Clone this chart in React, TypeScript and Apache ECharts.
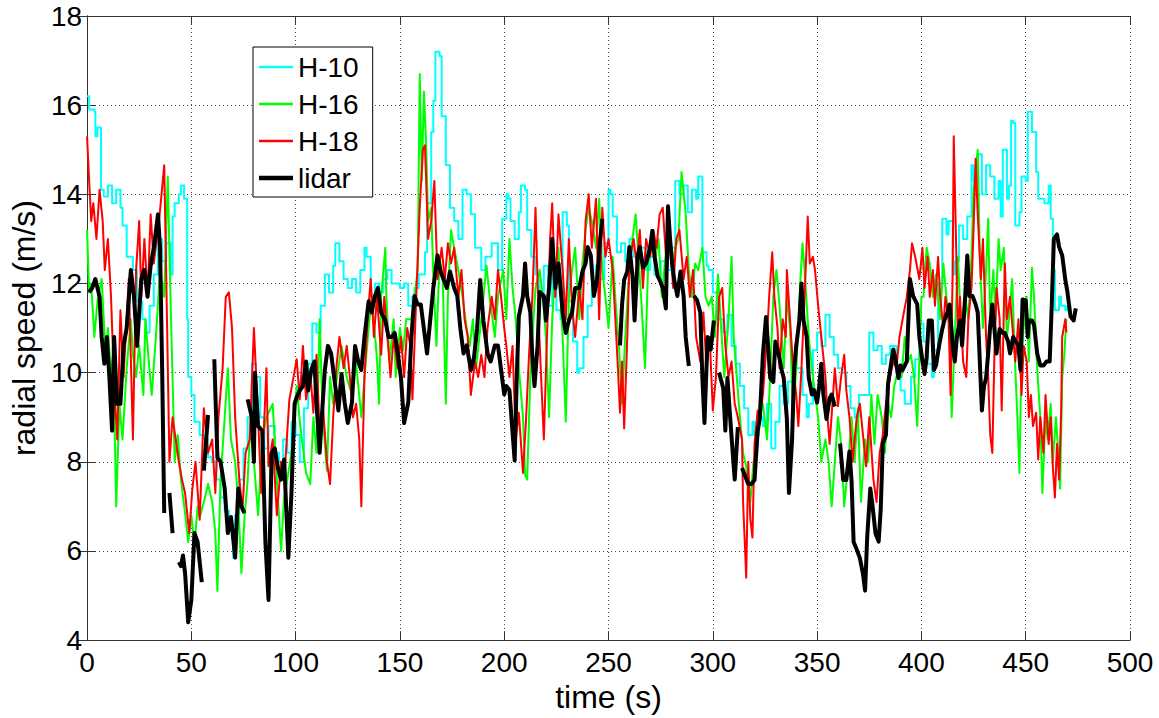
import React, { useEffect, useRef } from "react";
import * as echarts from "echarts";

const seriesNames = ["H-10", "H-16", "H-18", "lidar"];
const seriesColors = ["#00ffff", "#00ff00", "#ff0000", "#000000"];
const xTickInterval = 50;
const yTickInterval = 2;

// [time (s), radial speed (m/s)]
const h10: [number, number][] = [
  [0,16.2],[1,15.9],[3.5,15.85],[4,15.3],[5,15.5],[6.7,14.1],[8,13.95],[10,14.2],[12,13.8],[14,14.1],[16,13.7],[17,13.3],[19,12.6],[22,12.3],[24,11.6],[26.5,11.2],[28,10.9],[30,11.5],[32,12.2],[34,13],[36,12.5],[38,12.9],[40,12.2],[41,13.5],[42,13.8],[44,14.0],[45,14.2],[46.5,13.9],[48,11.2],[48.5,9.9],[50,9.5],[51.5,8.9],[54,8.6],[56,8.5],[58,8.1],[60,8.0],[62,7.6],[64,7.2],[66,6.9],[68,6.6],[70,5.85],[71,6.8],[73,7.6],[75,8.3],[77,9.0],[79,10.2],[81,9.9],[83,9.0],[85,8.3],[87,8.8],[90,8.2],[92,8.0],[94,8.5],[96,8.2],[98,8.9],[100,8.6],[102,8.0],[104,9.2],[106,10.2],[108,11.1],[110,10.9],[112,11.5],[114,12.2],[116,11.8],[118,12.4],[119,12.9],[121,12.5],[123,12.1],[125,11.9],[127,12.1],[129,11.8],[131,12.3],[133,12.8],[134,12.6],[136,11.7],[138,12.0],[140,11.8],[142,12.1],[144,12.3],[146,12.0],[148,12.0],[150,11.9],[152,12.0],[154,11.5],[156,11.7],[157,11.9],[159,12.2],[162,12.7],[163,13.8],[165,15.4],[166,16.1],[167,17.2],[169,17.1],[170,15.75],[172,14.65],[174,13.7],[176,13.4],[178,13.0],[180,14.1],[182,14.0],[184,13.55],[186,12.8],[189,12.3],[191,12.6],[194,12.9],[197,12.3],[199,13.45],[201,14.0],[202,13.9],[203,13.4],[205,13.0],[207,13.6],[208,14.2],[210,14.1],[211,13.2],[213,12.6],[215,12.2],[217,11.7],[219,12.4],[221,11.5],[223,12.2],[225,11.4],[227,11.2],[228,13.6],[230,13.3],[231,11.6],[233,10.7],[235,10.0],[236,10.1],[238,10.8],[240,11.5],[242,12.0],[244,12.4],[246,12.1],[248,12.9],[250,14.1],[251,14.0],[252,13.5],[254,12.7],[256,12.9],[258,12.5],[260,13.0],[262,12.6],[265,12.8],[268,12.3],[270,12.6],[272,12.2],[275,12.5],[278,12.3],[280,12.8],[282,14.3],[284,14.0],[286,14.2],[288,13.6],[290,14.1],[292,13.9],[293,14.4],[295,12.7],[297,12.4],[298,12.3],[300,11.8],[302,11.2],[305,10.9],[307,11.3],[309,10.6],[311,10.2],[313,9.7],[315,9.2],[317,8.6],[319,8.9],[320,8.6],[322,9.0],[324,8.8],[326,9.3],[328,8.3],[330,8.9],[332,9.7],[334,9.3],[336,9.8],[338,10.4],[340,10.1],[343,9.5],[345,9.0],[346,9.3],[348,10.5],[350,10.9],[352,10.6],[354,11.3],[356,10.8],[358,10.4],[360,10.1],[362,10.0],[364,9.7],[366,9.2],[368,9.0],[370,9.5],[373,9.5],[375,10.9],[377,10.5],[379,10.6],[381,10.2],[383,10.4],[385,10.6],[388,10.0],[390,9.6],[392,9.3],[395,9.9],[397,10.3],[399,11.1],[401,10.7],[403,10.2],[405,9.9],[406,10.5],[408,12.0],[410,13.45],[412,13.1],[413,13.4],[415,12.2],[416,12.5],[418,13.3],[420,13.0],[422,13.5],[424,14.65],[425,14.3],[427,14.9],[429,14.0],[431,14.65],[433,14.4],[435,13.9],[437,14.3],[438,13.5],[439,15.0],[441,13.9],[442,14.2],[443,15.65],[444,15.6],[445,13.3],[447,13.6],[448,14.4],[450,14.3],[451,15.85],[453,15.4],[455,14.5],[456,13.9],[459,13.8],[461,14.2],[462,13.45],[463,12.3],[464,11.4],[466,11.7],[467,11.5],[469,11.4],[470,11.5]
];

const h16: [number, number][] = [
  [0,13.2],[1,11.8],[2,12.0],[3.5,10.8],[5,11.6],[7,12.1],[8,11.2],[9,10.3],[10,11.0],[11.5,9.9],[12.5,10.4],[14,7.0],[15.5,9.3],[17,8.5],[19,10.1],[21,11.2],[22,10.4],[23.5,9.9],[25,10.6],[27,9.5],[28,11.2],[29.5,10.3],[31,9.5],[33,10.8],[35,12.3],[37,11.7],[38.7,14.4],[40,11.7],[42,8.0],[43.5,8.6],[45,7.6],[47,6.85],[48.5,6.2],[50,6.8],[51.5,6.1],[53,7.0],[54,6.75],[56,7.1],[58,7.5],[60,7.1],[61.5,6.4],[62.5,5.1],[64,7.6],[66,9.0],[67.5,10.1],[69,8.5],[71,8.0],[72.5,7.1],[74,5.5],[75.5,6.75],[77,7.6],[78.5,9.0],[80,8.0],[82,6.8],[84,8.5],[86,9.0],[89,9.3],[90.5,8.0],[93,6.0],[94.5,7.2],[96,7.6],[98,8.2],[99,8.6],[100.5,9.7],[102,8.9],[103,8.5],[105,7.75],[107,7.5],[108.5,9.0],[110,8.2],[111.5,11.2],[113,9.0],[115,7.8],[116.5,9.9],[118,9.3],[120.5,10.1],[122,10.6],[124.5,9.9],[127,9.5],[129,10.2],[131.5,9.0],[133,9.9],[135,11.0],[136.5,11.7],[139,10.3],[140,9.3],[141,11.7],[143,12.8],[143.5,11.7],[145,10.25],[147,11.2],[148,9.9],[150,11.0],[151.5,10.5],[153,11.2],[155.5,11.2],[157,11.7],[158.5,12.3],[159.5,16.7],[160.5,14.3],[161.5,16.3],[162.5,15.2],[163.5,13.4],[165,13.7],[166,12.2],[167.5,10.6],[169,12.6],[170.5,12.1],[172,9.3],[173,11.7],[174.5,13.2],[176,12.8],[178,12.3],[180,11.7],[182,11.0],[183.5,10.6],[185,11.2],[186.5,10.1],[189,11.2],[191.5,12.4],[193,11.7],[195.5,10.8],[197,11.7],[199.5,12.3],[201,11.2],[202.5,13.0],[204,11.9],[205.5,11.2],[207,10.1],[209,9.0],[210,7.7],[211,7.6],[212.5,9.9],[213.5,10.8],[215,11.9],[217,12.3],[218.5,11.7],[220,10.8],[221.5,9.0],[223,11.2],[224.5,12.3],[226,12.8],[228,10.8],[229.5,8.9],[231,11.7],[232.5,12.3],[234,12.8],[236,11.2],[237.5,12.45],[239,13.2],[240.5,13.7],[242,13.4],[244,12.8],[245.5,13.9],[247,12.3],[248.5,11.7],[250,11.0],[252,12.6],[253.5,11.5],[255,10.6],[256.5,9.3],[258,10.8],[260,12.3],[261.5,13.0],[263,13.55],[264.5,12.5],[266,11.4],[267.5,10.1],[269,12.45],[271,13.0],[272.5,12.6],[274,13.0],[275.5,11.7],[277,12.45],[279,13.4],[280.5,12.3],[282,12.8],[283.5,13.0],[285,14.5],[287,13.55],[288.5,12.3],[290,11.7],[291.5,12.45],[293,12.3],[295,12.8],[296.5,11.7],[298,11.5],[299.5,11.7],[301,10.8],[302.5,12.2],[304,11.0],[305.5,9.9],[307.5,11.2],[309,12.6],[310,10.8],[311.5,9.9],[313,9.0],[314.5,8.2],[316,7.9],[318,7.1],[319.5,8.0],[321,8.2],[322.5,9.0],[324,9.3],[326,8.5],[327.5,9.9],[329,11.7],[330.5,12.3],[332,11.5],[334,10.1],[335.5,11.7],[337,11.0],[338.5,9.0],[340,10.1],[342,12.1],[343,12.9],[344,12.3],[346,10.8],[347.5,10.1],[349,9.5],[350.5,9.0],[352,8.0],[354,8.5],[355.5,8.0],[357,7.0],[358.5,8.0],[360,9.0],[361.5,8.4],[363,7.0],[365,8.0],[366.5,9.0],[368,8.0],[369.5,9.2],[371,7.1],[373,8.5],[374.5,8.0],[376,9.5],[377.5,8.4],[379,9.5],[381,9.0],[382.5,8.2],[384,9.3],[385.5,9.0],[387,9.7],[389,10.1],[390.5,9.9],[392,10.8],[393.5,10.25],[395,10.4],[396.5,9.9],[398,8.8],[400,11.7],[401,11.7],[402.5,12.8],[404,12.45],[405.5,11.7],[407,12.2],[409,11.2],[410.5,12.45],[412,11.7],[413.5,11.0],[414.5,9.0],[416,10.8],[417.5,12.6],[419,11.0],[421,11.7],[422.5,11.2],[424,12.6],[425,14.1],[427,15.0],[428,12.6],[429.5,11.0],[431,12.3],[432,13.45],[433,11.2],[434.5,12.3],[435.5,11.2],[437,13.0],[438,12.3],[439.5,12.8],[441,10.8],[442,11.2],[443.5,12.1],[445,10.1],[446,9.0],[447,7.75],[448,10.4],[449,11.0],[450.5,11.7],[451.5,10.25],[453,12.35],[454,11.7],[455.5,10.1],[457,9.0],[458,7.3],[459.5,9.0],[460.5,8.5],[462,9.3],[463,8.0],[464.5,9.0],[465.5,8.3],[466.5,7.4],[467.5,9.9],[468.5,10.4],[469.5,11.2]
];

const h18: [number, number][] = [
  [0,15.3],[1,14.3],[2,13.4],[3,13.8],[4.5,13.0],[6,14.1],[7.5,13.4],[8.5,12.3],[10,13.0],[11.5,11.7],[13,9.7],[14.5,8.5],[16,11.4],[17.5,9.9],[18.5,10.8],[20,12.1],[22,8.5],[23.5,12.3],[25,13.4],[26,11.7],[27.5,13.0],[29,11.7],[30.5,13.55],[32,12.45],[34.5,13.4],[37,14.65],[37.8,12.6],[39.5,8.0],[41,9.0],[42.5,8.5],[44,8.0],[45.5,7.6],[47,7.3],[49,6.4],[50.5,7.4],[52,8.0],[54,6.7],[56,9.2],[58,8.2],[60,8.5],[61.5,7.3],[63,9.0],[65,10.1],[66.5,11.7],[68,11.8],[69.5,11.0],[71,9.0],[73,7.6],[74.5,6.9],[76,8.2],[78,8.5],[80,11.0],[82,9.0],[83.5,7.3],[86,10.1],[87,7.9],[89,8.5],[91,6.8],[93,8.0],[94.5,7.6],[97,9.4],[99,9.9],[100.5,10.3],[102,9.4],[103.5,10.6],[105,9.4],[107,10.0],[108.5,9.1],[110,10.4],[111.5,8.7],[113,9.3],[115,8.0],[116.5,7.5],[118,9.0],[119.5,10.1],[121,10.8],[123,10.1],[124.5,10.6],[126,9.9],[127.5,9.0],[129,9.3],[130.5,8.5],[131.5,7.0],[133,9.9],[134.5,11.2],[136,12.1],[137.5,10.8],[139,11.7],[141,10.4],[142.5,11.7],[144,10.8],[145.5,9.9],[147,10.8],[149,10.1],[150.5,10.8],[152,9.9],[153.5,11.0],[155,10.6],[156,9.4],[158,11.9],[159.5,13.7],[161,15.0],[162,15.1],[163.5,13.0],[165,13.4],[166.5,14.3],[168,12.1],[170,12.8],[171.5,12.1],[173,12.9],[174.5,12.45],[176,12.8],[178,11.7],[179.5,12.3],[181,11.2],[182.5,10.8],[184,9.5],[186,10.25],[187.5,9.9],[189,10.4],[190.5,9.9],[192,11.0],[194,11.7],[195.5,11.2],[197,12.3],[198.5,11.7],[200,11.0],[201,10.6],[202.5,9.9],[204,10.6],[205.5,8.5],[207,9.1],[209,7.75],[210.5,9.0],[212,10.5],[213.5,11.7],[215,13.7],[216.5,11.2],[217.5,10.1],[219,8.5],[220.5,10.8],[222,13.0],[223,13.8],[224.5,11.7],[226,13.55],[228,12.3],[229.5,11.2],[231,13.0],[232.5,11.5],[234,10.8],[236,11.9],[237.5,11.2],[239,13.4],[240.5,14.0],[242,12.8],[244,13.9],[245.5,11.2],[247,13.7],[248.5,12.6],[250,13.0],[252,12.3],[253.5,11.0],[254.5,10.1],[255.5,9.1],[256.5,10.25],[257.5,8.75],[259,10.8],[260,12.45],[262,13.0],[263.5,12.45],[265,13.2],[266.5,11.9],[268,13.0],[270,12.6],[271.5,13.2],[273,12.8],[274.5,13.55],[276,13.7],[278,12.3],[279.5,13.0],[281,11.9],[282.5,13.0],[284,13.2],[286,12.1],[287.5,12.6],[289,11.7],[290.5,12.3],[292,10.8],[294,10.25],[295.5,11.35],[297,10.1],[298.5,10.8],[300,9.15],[301.5,9.9],[303,11.7],[304.5,11.9],[306,10.6],[307.5,9.9],[309,10.25],[310.5,9.3],[312,9.0],[314,8.5],[314.5,7.1],[315.5,6.0],[316,5.4],[317,8.0],[318,6.7],[319,6.3],[320,8.4],[321.5,9.15],[322.5,9.0],[324,9.5],[326,10.8],[327,11.7],[328.5,12.7],[329.5,11.7],[331,11.0],[332,10.1],[333.5,11.2],[335,10.8],[335.5,12.3],[337,11.2],[338.5,10.1],[340,9.5],[341,8.8],[342.5,10.1],[344,11.7],[345.5,13.5],[346.5,12.45],[348,12.6],[349,12.3],[350.5,11.5],[352,10.8],[354,9.9],[355,9.0],[356,8.4],[357.5,9.4],[358.5,10.1],[360,9.25],[361.5,9.9],[363,10.4],[364,9.6],[365.5,9.0],[367,8.0],[369,9.0],[370.5,9.3],[372,8.6],[373.5,7.9],[375,9.0],[377,7.6],[378.5,7.1],[380,8.2],[381.5,8.6],[383,9.3],[385,9.9],[386.5,10.25],[388,10.1],[389.5,10.8],[391,11.2],[393,11.7],[394.5,12.3],[395.5,12.9],[397,12.6],[399,12.1],[400.5,12.8],[401.5,11.9],[403,12.6],[404,11.7],[405.5,12.3],[406.5,11.5],[408,12.6],[409,11.7],[410.5,11.0],[411.5,11.7],[413,11.2],[414,9.5],[415,12.3],[415.5,15.3],[416.5,13.2],[417.5,10.8],[418.5,11.7],[420,10.25],[421.5,9.9],[422.5,11.2],[424,11.9],[425,13.2],[426,14.8],[427,13.55],[428.5,12.1],[429.5,13.0],[431,10.8],[432,9.9],[433,8.6],[434,8.2],[435,10.4],[436,11.9],[437.5,11.2],[438.5,9.15],[440,12.45],[441,11.2],[442.5,11.7],[444,10.8],[445,10.25],[446.5,11.2],[448,9.5],[449,10.6],[450.5,10.25],[451.5,9.0],[452.5,9.5],[453.5,8.8],[455,9.1],[456,8.05],[457,9.0],[458.5,8.2],[459.5,9.5],[461,8.4],[462,9.0],[463,7.9],[464,7.2],[465,8.4],[466,7.6],[467,9.15],[467.5,10.8],[469,11.2],[469.5,10.9]
];

// "-" marks a gap in the lidar record
const lidar: [number, number | string][] = [
  [1,11.8],[2.5,11.9],[4,12.1],[6,11.7],[7,10.8],[8.3,10.2],[9.5,10.8],[10.7,9.9],[12,8.7],[13,10.8],[14.3,9.3],[16,9.3],[17.5,10.6],[19,11.0],[21,12.3],[22.5,11.7],[24,10.6],[26,12.1],[27.5,12.3],[29,11.7],[30.5,12.4],[32,12.8],[34,13.55],[35,12.8],[36,10.1],[37,6.85],[38,"-"],[39.5,7.3],[41,6.4],[42,"-"],[44,5.75],[45,5.66],[46,5.9],[47,5.5],[48.5,4.4],[50,4.9],[51.5,6.4],[53,6.2],[55,5.3],[55.5,"-"],[56,7.8],[58,9.05],[59,"-"],[61,10.3],[62.5,8.1],[64,8.0],[66,7.4],[67.5,6.4],[69,6.76],[71,5.85],[72.5,7.4],[74,7.0],[75.5,6.85],[76,"-"],[77,9.4],[79,9.0],[80,8.0],[80.5,10.0],[82,8.8],[84,8.7],[85.5,6.2],[87,4.9],[88.5,8.2],[90,8.3],[91.5,7.86],[93,7.6],[94.5,8.05],[96.5,5.85],[98,7.3],[99.5,9.3],[100.5,9.45],[102,9.6],[103.5,9.7],[105,10.25],[106,9.6],[107.5,10.06],[109,10.25],[110,9.33],[111.5,8.2],[113,9.33],[114,10.06],[115.5,10.6],[117,10.43],[119,9.7],[120.5,9.15],[122,9.97],[123.5,9.33],[125,8.87],[127,9.33],[128.5,10.6],[130,10.25],[131.5,10.06],[133,10.8],[135,11.6],[136.5,11.35],[138,11.72],[139.5,11.9],[141,11.35],[143,11.17],[144.5,10.8],[146,10.8],[147.5,10.89],[149,10.43],[150.5,9.88],[152,8.87],[154,9.33],[155.5,10.8],[157,11.72],[158.5,11.53],[160,11.53],[161.5,10.98],[163,10.43],[164.5,11.17],[166,11.9],[168,12.63],[169.5,12.27],[171,12.08],[172.5,11.9],[174,12.27],[176,11.9],[177.5,11.72],[179,10.98],[180.5,10.43],[182,10.61],[184,10.06],[185.5,10.34],[187,10.98],[188.5,12.08],[190,11.17],[192,10.43],[193.5,10.25],[195.5,10.61],[197,10.61],[198.5,10.06],[200,9.51],[201,9.7],[202.5,9.61],[203.5,8.96],[205,8.03],[206,9.88],[207,11.26],[209,11.72],[210,12.45],[211,11.72],[212.5,11.35],[213.5,10.34],[214.5,9.7],[216,10.61],[217,11.81],[219,11.72],[220,11.17],[221.5,11.9],[223,13.0],[224.5,11.9],[226,12.45],[228,11.35],[229.5,10.89],[231,11.17],[232.5,11.35],[234,11.9],[236,11.9],[237.5,12.27],[239,12.45],[240,12.82],[241.5,12.63],[243,11.72],[244.5,12.08],[246,13.0],[247,13.45],[247.5,"-"],[252.5,11.4],[253,"-"],[254,9.6],[254.5,"-"],[255.5,10.61],[256.5,11.53],[257.5,12.08],[259,12.27],[260,12.82],[261.5,12.17],[262.5,11.17],[264,12.63],[265,12.82],[266.5,12.36],[268,12.45],[270,12.82],[271,13.18],[272,12.63],[273.5,12.17],[274.5,12.08],[276,11.9],[277.5,11.44],[278.5,13.73],[279.5,13.0],[280.5,12.45],[281.5,12.08],[283,11.72],[284.5,12.27],[286,11.72],[287,10.8],[288.5,10.15],[289.5,"-"],[291,11.72],[292.5,11.62],[294,11.35],[295,9.88],[296,8.87],[297.5,10.8],[299,10.52],[300.5,11.17],[301.5,"-"],[303,10.0],[305,9.65],[306,8.7],[307,9.88],[308.5,8.87],[309.5,8.23],[310.5,7.6],[312,8.78],[313,"-"],[314,7.86],[315.5,7.68],[317,7.5],[318.5,7.5],[320,7.59],[321.5,8.69],[322.5,8.96],[324,10.4],[325.5,11.25],[326.5,10.61],[327.5,9.88],[329,9.79],[330,10.7],[331.5,10.43],[333,10.06],[334,9.88],[335.5,8.96],[336.5,7.3],[338,8.5],[339,10.06],[340,10.61],[341.5,11.17],[342.5,12.0],[343.5,11.17],[345,10.8],[346,9.88],[347.5,9.51],[348.5,9.61],[350,9.33],[351,9.7],[352,10.2],[353,9.51],[354.5,8.96],[356,9.42],[357,9.51],[358.5,9.24],[359.5,"-"],[361,8.41],[362.5,7.59],[364,7.59],[365.5,8.23],[366.5,7.59],[367.5,6.2],[369,6.03],[370.5,5.84],[372,5.48],[373,5.11],[374,6.3],[375.5,7.4],[376.5,7.04],[378,6.39],[379.5,6.21],[380.5,6.94],[381.5,8.41],[383,8.6],[384,9.75],[385,10.06],[386.5,10.52],[387.5,10.34],[389,9.88],[390,10.16],[391,10.06],[393,10.25],[394.5,12.1],[396,11.72],[398,11.53],[399,10.8],[400.5,10.25],[401.5,9.97],[402.5,10.34],[403.5,11.17],[405,11.17],[406,10.06],[407,10.16],[408.5,10.61],[410,10.98],[411,11.17],[412.5,11.35],[413.5,11.53],[415,10.61],[416,10.25],[417,10.8],[418.5,11.17],[419.5,10.61],[421,11.72],[422,12.63],[423,11.72],[424.5,11.72],[426,11.53],[427,11.35],[428,10.25],[429,9.15],[430,9.7],[431,9.88],[432,10.43],[433,11.07],[434,11.53],[435,10.98],[436,10.43],[437.5,10.98],[439,10.89],[440,10.89],[441.5,10.71],[442.5,10.43],[444,10.8],[445,10.71],[446.5,10.61],[447.5,10.06],[448.5,11.64],[450,11.62],[451,10.8],[451.5,11.17],[453,11.17],[454,11.07],[455.5,10.43],[457,10.16],[458.5,10.16],[460,10.25],[461.5,10.25],[462.5,11.53],[463.5,13.0],[465,13.1],[466,12.82],[467.5,12.63],[468,12.45],[469,12.08],[470,11.81],[471.5,11.26],[473,11.17],[474,11.44]
];

const FONT = "'Liberation Sans', Arial, Helvetica, sans-serif";

export default function App() {
  const ref = useRef<HTMLDivElement>(null);
  useEffect(() => {
    if (!ref.current) return;
    const chart = echarts.init(ref.current, undefined, { renderer: "svg" });
    const axisLineStyle = { color: "#333", width: 1 };
    const splitLineStyle = { type: [1, 3] as any, color: "#444", width: 1 };
    const dataSets = [h10, h16, h18, lidar];
    chart.setOption({
      animation: false,
      backgroundColor: "#fff",
      grid: { left: 86, right: 29, top: 16, bottom: 68, containLabel: false },
      legend: {
        show: true,
        orient: "vertical",
        left: 253,
        top: 47,
        itemWidth: 34,
        itemHeight: 14,
        itemGap: 9,
        padding: [6, 14, 5, 6],
        borderColor: "#000",
        borderWidth: 1,
        borderRadius: 0,
        backgroundColor: "#fff",
        symbolKeepAspect: true,
        textStyle: { fontSize: 28, fontFamily: FONT, color: "#000", lineHeight: 28 },
        data: seriesNames.map((name, i) => ({
          name,
          icon: i === 3 ? "path://M0,0H34V4.5H0Z" : "path://M0,0H34V2.6H0Z",
          itemStyle: { color: seriesColors[i], borderWidth: 0 },
        })),
      },
      xAxis: [
        {
          type: "value",
          min: 0,
          max: 500,
          interval: xTickInterval,
          name: "time (s)",
          nameLocation: "middle",
          nameGap: 31,
          nameTextStyle: { fontSize: 32, fontFamily: FONT, color: "#000" },
          axisLine: { show: true, lineStyle: axisLineStyle },
          axisTick: { show: true, inside: true, length: 9, lineStyle: axisLineStyle },
          axisLabel: { fontSize: 28, fontFamily: FONT, color: "#000", margin: 8 },
          splitLine: { show: true, lineStyle: splitLineStyle },
        },
        {
          type: "value",
          position: "top",
          min: 0,
          max: 500,
          interval: xTickInterval,
          axisLine: { show: true, lineStyle: axisLineStyle },
          axisTick: { show: true, inside: true, length: 9, lineStyle: axisLineStyle },
          axisLabel: { show: false },
          splitLine: { show: false },
        },
      ],
      yAxis: [
        {
          type: "value",
          min: 4,
          max: 18,
          interval: yTickInterval,
          name: "radial speed (m/s)",
          nameLocation: "middle",
          nameGap: 40,
          nameTextStyle: { fontSize: 32, fontFamily: FONT, color: "#000" },
          axisLine: { show: true, lineStyle: axisLineStyle },
          axisTick: { show: true, inside: true, length: 9, lineStyle: axisLineStyle },
          axisLabel: { fontSize: 28, fontFamily: FONT, color: "#000", margin: 5 },
          splitLine: { show: true, lineStyle: splitLineStyle },
        },
        {
          type: "value",
          position: "right",
          min: 4,
          max: 18,
          interval: yTickInterval,
          axisLine: { show: true, lineStyle: axisLineStyle },
          axisTick: { show: true, inside: true, length: 9, lineStyle: axisLineStyle },
          axisLabel: { show: false },
          splitLine: { show: false },
        },
      ],
      series: seriesNames.map((name, i) => ({
        name,
        type: "line",
        xAxisIndex: 0,
        yAxisIndex: 0,
        data: dataSets[i],
        step: i === 0 ? "end" : false,
        showSymbol: false,
        symbol: "none",
        connectNulls: false,
        color: seriesColors[i],
        lineStyle: { color: seriesColors[i], width: i === 3 ? 4 : 2, join: "round" },
        z: 2 + i,
      })),
    });
    return () => chart.dispose();
  }, []);
  return (
    <div
      ref={ref}
      style={{ position: "fixed", left: 0, top: 0, width: 1159, height: 718, background: "#fff" }}
    />
  );
}
